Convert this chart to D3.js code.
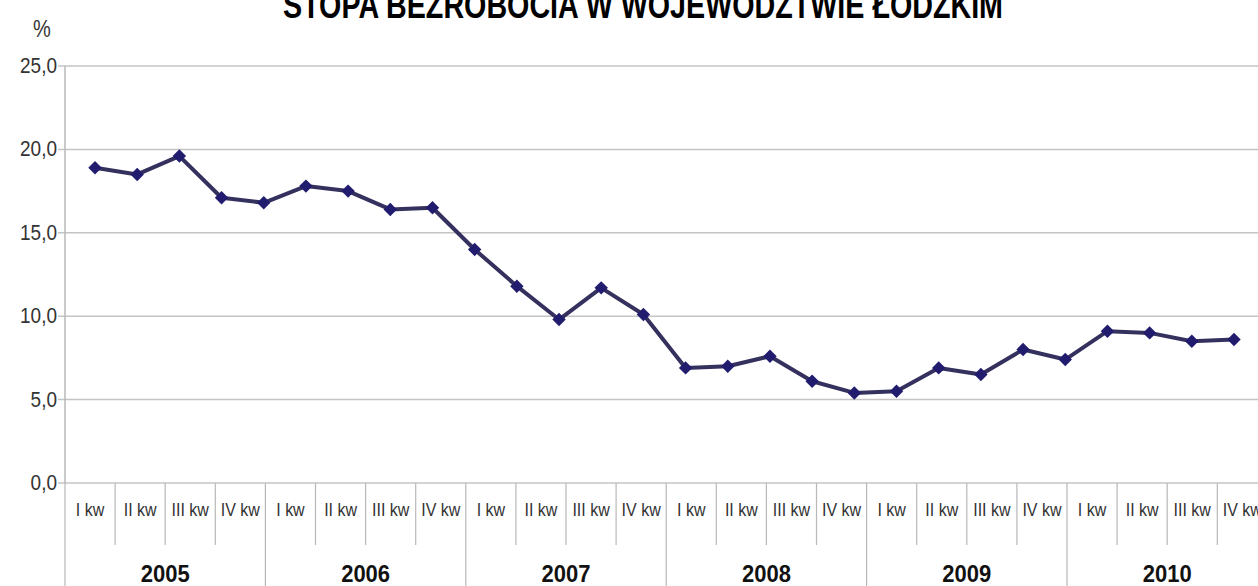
<!DOCTYPE html>
<html>
<head>
<meta charset="utf-8">
<script src="https://cdn.jsdelivr.net/npm/d3@7"></script>
<style>
  html, body { margin: 0; padding: 0; background: #fff; }
  svg { display: block; font-family: "Liberation Sans", Arial, sans-serif; }
</style>
</head>
<body>
<svg id="chart" width="1258" height="586"></svg>
<script>
const title = "STOPA BEZROBOCIA W WOJEWÓDZTWIE ŁÓDZKIM";
const unitLabel = "%";
const years = ["2005", "2006", "2007", "2008", "2009", "2010"];
const quarters = ["I kw", "II kw", "III kw", "IV kw"];
const yTicks = [0, 5, 10, 15, 20, 25];
const rates = [18.9, 18.5, 19.6, 17.1, 16.8, 17.8, 17.5, 16.4, 16.5, 14.0, 11.8, 9.8, 11.7, 10.1,
               6.9, 7.0, 7.6, 6.1, 5.4, 5.5, 6.9, 6.5, 8.0, 7.4, 9.1, 9.0, 8.5, 8.6];

(function () {
const svg = d3.select("#chart");
const W = 1258, H = 586;
const plotLeft = 65, plotTop = 66, zeroY = 483;
const bandW = 50.1;

const categories = [];
years.forEach(y => quarters.forEach(q => categories.push(y + "|" + q)));

const xCat = d3.scaleBand().domain(categories).range([plotLeft, plotLeft + bandW * categories.length]);
const xYear = d3.scaleBand().domain(years).range([plotLeft, plotLeft + bandW * categories.length]);
const xPt = d3.scalePoint().domain(d3.range(rates.length)).range([95, 1234]);
const y = d3.scaleLinear().domain([0, 25]).range([zeroY, plotTop]);

// gridlines
svg.append("g").selectAll("line").data(yTicks).join("line")
  .attr("x1", plotLeft - 7).attr("x2", W)
  .attr("y1", d => y(d)).attr("y2", d => y(d))
  .attr("stroke", "#c4c4c4").attr("stroke-width", 1.5);

// y axis line
svg.append("line").attr("x1", plotLeft).attr("x2", plotLeft).attr("y1", plotTop).attr("y2", zeroY)
  .attr("stroke", "#b8b8b8").attr("stroke-width", 1.5);

// y labels
const fmt = d => d3.format(".1f")(d).replace(".", ",");
svg.append("g").selectAll("text").data(yTicks).join("text")
  .attr("transform", d => `translate(${plotLeft - 8},${y(d) + 7}) scale(1,1.2)`)
  .attr("text-anchor", "end")
  .attr("font-size", 19).attr("fill", "#333")
  .text(fmt);

// quarter separators
svg.append("g").selectAll("line").data(categories).join("line")
  .attr("x1", d => xCat(d)).attr("x2", d => xCat(d))
  .attr("y1", zeroY).attr("y2", d => d.endsWith("|I kw") ? H : 545)
  .attr("stroke", "#b8b8b8").attr("stroke-width", 1.2);

// quarter labels
svg.append("g").selectAll("text").data(categories).join("text")
  .attr("transform", d => `translate(${xCat(d) + xCat.bandwidth() / 2},${516}) scale(1,1.12)`)
  .attr("text-anchor", "middle")
  .attr("font-size", 16).attr("fill", "#333")
  .text(d => d.split("|")[1]);

// year labels
svg.append("g").selectAll("text").data(years).join("text")
  .attr("transform", d => `translate(${xYear(d) + xYear.bandwidth() / 2},${582}) scale(1,1.1)`)
  .attr("text-anchor", "middle")
  .attr("font-size", 22).attr("font-weight", "bold").attr("fill", "#111")
  .text(d => d);

// line
const line = d3.line().x((d, i) => xPt(i)).y(d => y(d));
svg.append("path").datum(rates).attr("d", line)
  .attr("fill", "none").attr("stroke", "#35315e").attr("stroke-width", 4)
  .attr("stroke-linejoin", "round");

// markers
const sym = d3.symbol().type(d3.symbolSquare).size(90);
svg.append("g").selectAll("path").data(rates).join("path")
  .attr("d", sym)
  .attr("transform", (d, i) => `translate(${xPt(i)},${y(d)}) rotate(45)`)
  .attr("fill", "#221c6e");

// title
svg.append("text").attr("transform", "translate(643,18) scale(1,1.45)")
  .attr("text-anchor", "middle").attr("font-size", 25).attr("font-weight", "bold")
  .attr("fill", "#000").attr("textLength", 720).attr("lengthAdjust", "spacingAndGlyphs")
  .text(title);

// unit label
svg.append("text").attr("transform", "translate(42,37) scale(1,1.2)")
  .attr("text-anchor", "middle").attr("font-size", 20).attr("fill", "#333")
  .text(unitLabel);
})();
</script>
</body>
</html>
